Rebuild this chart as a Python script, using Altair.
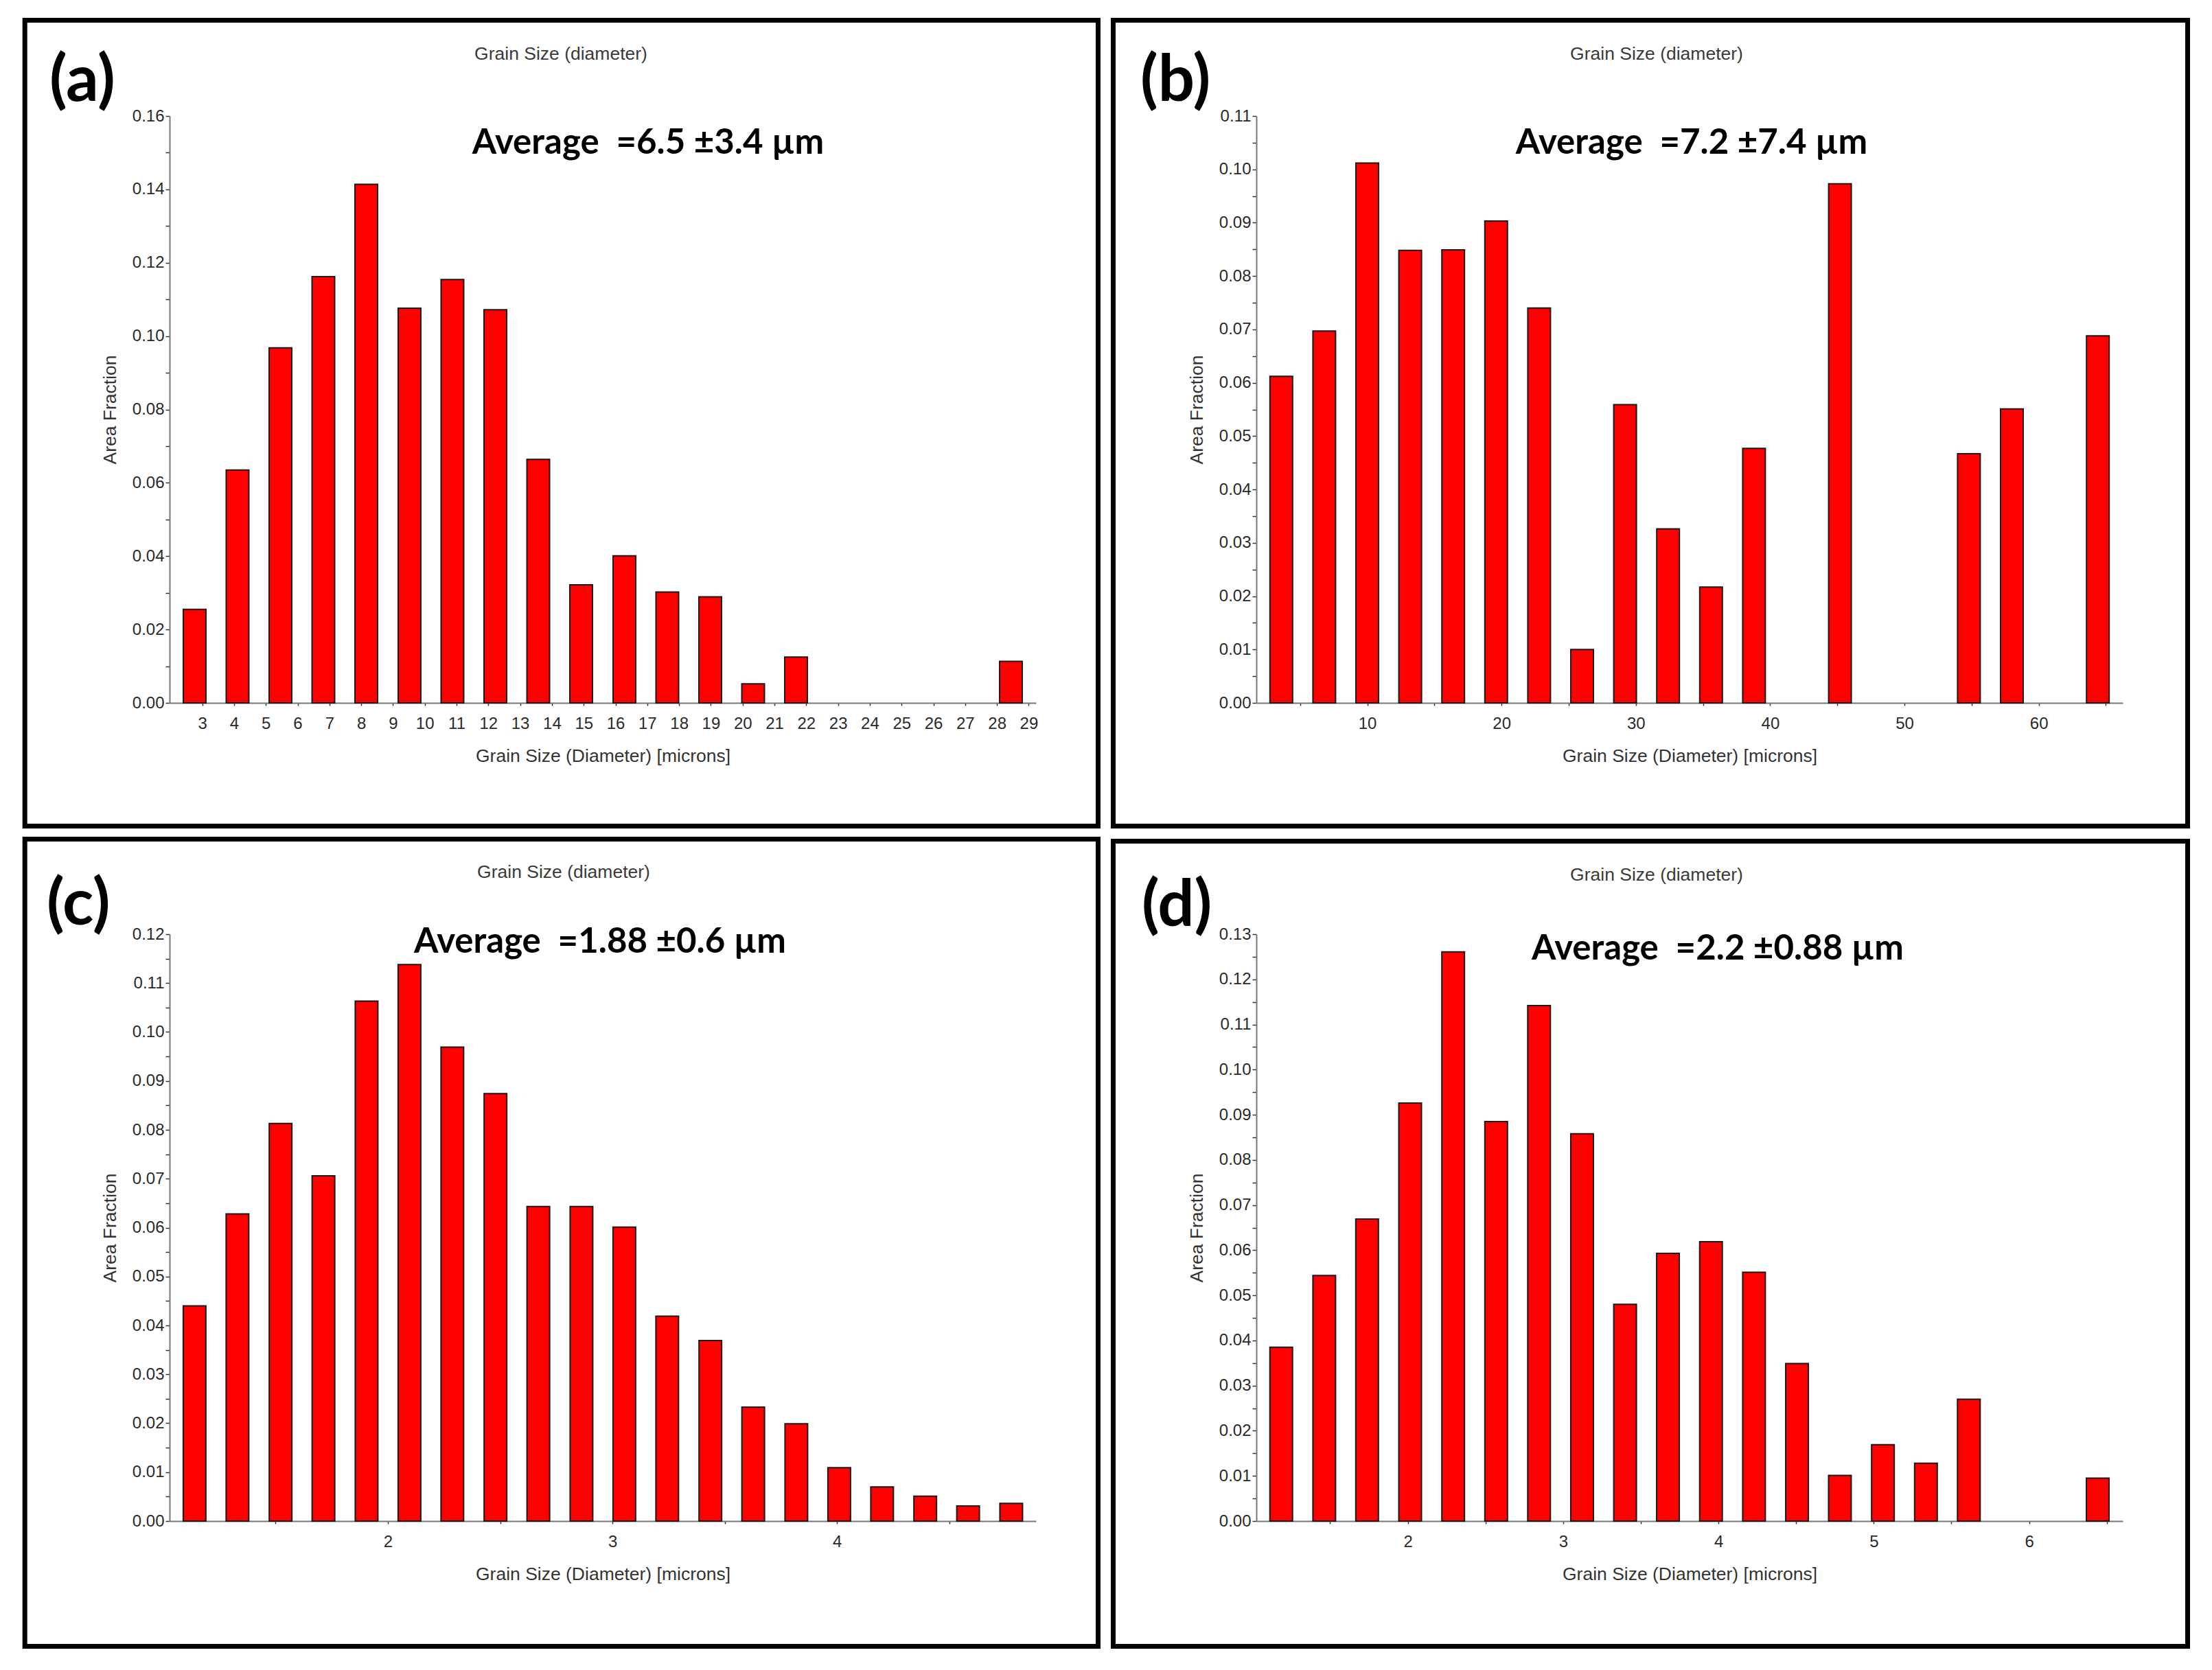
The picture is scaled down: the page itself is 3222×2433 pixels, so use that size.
import altair as alt
import pandas as pd

# ---------------- data ----------------
A_X = [2.76, 4.11, 5.46, 6.81, 8.16, 9.52, 10.87, 12.22, 13.57, 14.92,
       16.28, 17.63, 18.98, 20.33, 21.68, 23.04, 24.39, 25.74, 27.09, 28.44]
A_Y = [0.0255, 0.0635, 0.0968, 0.1162, 0.1414, 0.1076, 0.1154, 0.1072, 0.0664, 0.0322,
       0.0401, 0.0302, 0.0289, 0.0052, 0.0125, 0.0, 0.0, 0.0, 0.0, 0.0113]

B_X = [3.6, 6.8, 10.0, 13.2, 16.4, 19.6, 22.8, 26.0, 29.2, 32.4,
       35.6, 38.8, 42.0, 45.2, 48.4, 51.6, 54.8, 58.0, 61.2, 64.4]
B_Y = [0.0612, 0.0697, 0.1012, 0.0848, 0.0849, 0.0903, 0.0740, 0.0100, 0.0559, 0.0326,
       0.0217, 0.0477, 0.0, 0.0973, 0.0, 0.0, 0.0467, 0.0551, 0.0, 0.0688]

C_X = [1.139, 1.330, 1.522, 1.713, 1.905, 2.096, 2.287, 2.479, 2.670, 2.862,
       3.053, 3.244, 3.436, 3.627, 3.819, 4.010, 4.201, 4.393, 4.584, 4.776]
C_Y = [0.0440, 0.0628, 0.0813, 0.0706, 0.1063, 0.1138, 0.0969, 0.0874, 0.0643, 0.0643,
       0.0601, 0.0419, 0.0369, 0.0233, 0.0199, 0.0109, 0.0070, 0.0051, 0.0031, 0.0036]

D_X = [1.185, 1.462, 1.738, 2.015, 2.292, 2.569, 2.845, 3.122, 3.399, 3.675,
       3.952, 4.229, 4.506, 4.782, 5.059, 5.336, 5.612, 5.889, 6.166, 6.442]
D_Y = [0.0385, 0.0544, 0.0669, 0.0926, 0.1261, 0.0885, 0.1142, 0.0858, 0.0480, 0.0593,
       0.0619, 0.0551, 0.0349, 0.0101, 0.0169, 0.0128, 0.0270, 0.0, 0.0, 0.0095]

A_XDOM = [2.08, 29.12]
B_XDOM = [2.0, 66.0]
C_XDOM = [1.043, 4.871]
D_XDOM = [1.047, 6.581]

A_YMAX, B_YMAX, C_YMAX, D_YMAX = 0.16, 0.11, 0.12, 0.13

A_XT = [3, 4, 5, 6, 7, 8, 9, 10, 11, 12, 13, 14, 15, 16, 17, 18, 19, 20, 21, 22,
        23, 24, 25, 26, 27, 28, 29]
B_XT = [5, 10, 15, 20, 25, 30, 35, 40, 45, 50, 55, 60, 65]
C_XT = [1.5, 2, 2.5, 3, 3.5, 4, 4.5]
D_XT = [1.5, 2, 2.5, 3, 3.5, 4, 4.5, 5, 5.5, 6, 6.5]

A_YT = [0.00, 0.01, 0.02, 0.03, 0.04, 0.05, 0.06, 0.07, 0.08, 0.09, 0.10, 0.11,
        0.12, 0.13, 0.14, 0.15, 0.16]
B_YT = [0.000, 0.005, 0.010, 0.015, 0.020, 0.025, 0.030, 0.035, 0.040, 0.045, 0.050,
        0.055, 0.060, 0.065, 0.070, 0.075, 0.080, 0.085, 0.090, 0.095, 0.100, 0.105, 0.110]
C_YT = B_YT + [0.115, 0.120]
D_YT = C_YT + [0.125, 0.130]

LABELS = ["(a)", "(b)", "(c)", "(d)"]
AVERAGES = ["Average\u00a0 =6.5 \u00b13.4 \u00b5m",
            "Average\u00a0 =7.2 \u00b17.4 \u00b5m",
            "Average\u00a0 =1.88 \u00b10.6 \u00b5m",
            "Average\u00a0 =2.2 \u00b10.88 \u00b5m"]
TITLE = "Grain Size (diameter)"
XTITLE = "Grain Size (Diameter) [microns]"
YTITLE = "Area Fraction"

W, H = 1262, 855
SMALL_FONT = "Liberation Sans"


def text_layer(text, x, y, size, font, weight, color="black", align="center"):
    return alt.Chart(pd.DataFrame({"t": [text]})).mark_text(
        align=align, baseline="alphabetic", fontSize=size, font=font,
        fontWeight=weight, color=color
    ).encode(x=alt.value(x), y=alt.value(y), text="t:N")


def panel(xs, ys, xdom, ymax, xt, x_expr, yt, y_expr, label, avg, geo):
    df = pd.DataFrame({"d": xs, "f": ys})
    xaxis = dict(values=xt, title=XTITLE, tickSize=4, labelPadding=14,
                 labelFlush=False, labelOverlap=False,
                 titleX=W / 2, titleY=77, titleBaseline="middle", titleAlign="center")
    if x_expr:
        xaxis["labelExpr"] = x_expr
    bars = alt.Chart(df).transform_filter("datum.f > 0").mark_bar(
        orient="vertical", size=33, color="#ff0000", stroke="#1a1a1a", strokeWidth=2
    ).encode(
        x=alt.X("d:Q", scale=alt.Scale(domain=xdom, nice=False, zero=False),
                axis=alt.Axis(**xaxis)),
        y=alt.Y("f:Q", scale=alt.Scale(domain=[0, ymax], nice=False),
                axis=alt.Axis(values=yt, labelExpr=y_expr, format=".2f", title=YTITLE,
                              tickSize=6, labelPadding=2,
                              titleX=-87, titleY=H / 2, titleAngle=270,
                              titleBaseline="middle", titleAlign="center")),
    )
    border = alt.Chart(pd.DataFrame({"b": [0]})).mark_rect(
        fillOpacity=0, stroke="black", strokeWidth=7
    ).encode(x=alt.value(geo["bx"][0]), x2=alt.value(geo["bx"][1]),
             y=alt.value(geo["by"][0]), y2=alt.value(geo["by"][1]))
    lab = text_layer(label, geo["lab"][0], geo["lab"][1], 94, "Lato", "bold", align="left")
    ttl = text_layer(TITLE, geo["ttl"][0], geo["ttl"][1], 26.5, SMALL_FONT, "normal", color="#3a3a3a")
    av = text_layer(avg, geo["avg"][0], geo["avg"][1], 51, "Lato", "bold")
    return alt.layer(border, bars, lab, ttl, av).properties(width=W, height=H)


Y_EXPR_A = "round(datum.value * 100) % 2 == 0 ? datum.label : ''"
Y_EXPR = "round(datum.value * 1000) % 10 == 0 ? datum.label : ''"
X_EXPR_B = "datum.value % 10 == 0 ? format(datum.value, 'd') : ''"
X_EXPR_CD = "datum.value % 1 == 0 ? format(datum.value, 'd') : ''"

pa = panel(A_X, A_Y, A_XDOM, A_YMAX, A_XT, None, A_YT, Y_EXPR_A, LABELS[0], AVERAGES[0],
           dict(bx=(-210.8, 1352.5), by=(-139.5, 1034.5), lab=(-175, -22),
                ttl=(570, -82), avg=(697, 55)))
pb = panel(B_X, B_Y, B_XDOM, B_YMAX, B_XT, X_EXPR_B,
           B_YT, Y_EXPR, LABELS[1], AVERAGES[1],
           dict(bx=(-208.5, 1356.5), by=(-139.5, 1034.5), lab=(-169, -22),
                ttl=(583, -82), avg=(634, 55)))
pc = panel(C_X, C_Y, C_XDOM, C_YMAX, C_XT, X_EXPR_CD,
           C_YT, Y_EXPR, LABELS[2], AVERAGES[2],
           dict(bx=(-210.8, 1352.5), by=(-138.5, 1037.5), lab=(-179, -14),
                ttl=(574, -82), avg=(627, 27)))
pd_ = panel(D_X, D_Y, D_XDOM, D_YMAX, D_XT, X_EXPR_CD,
            D_YT, Y_EXPR, LABELS[3], AVERAGES[3],
            dict(bx=(-208.5, 1356.5), by=(-135.5, 1037.5), lab=(-167, -12),
                 ttl=(583, -78), avg=(672, 37)))

chart = alt.concat(
    pa, pb, pc, pd_, columns=2, spacing={"row": 337, "column": 321}, bounds="flush"
).properties(
    padding={"left": 24, "top": 18, "right": 5, "bottom": 5}
).configure_view(
    stroke=None
).configure_axis(
    grid=False,
    domainColor="#777777", domainWidth=2,
    tickColor="#333333", tickWidth=1.5,
    labelFont=SMALL_FONT, labelFontSize=24, labelColor="#2a2a2a",
    titleFont=SMALL_FONT, titleFontSize=26.5, titleColor="#333333", titleFontWeight="normal",
)

chart.save("out.html", embed_options={"renderer": "svg", "actions": False})
